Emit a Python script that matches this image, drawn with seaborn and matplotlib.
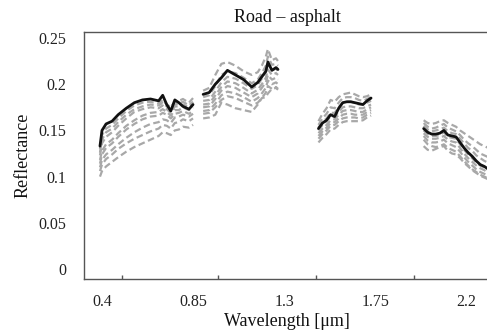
import numpy as np
import pandas as pd
import matplotlib
matplotlib.use("Agg")
import matplotlib.pyplot as plt
import seaborn as sns

# Wavelength sampling of the four atmospheric windows [µm]
W1 = [0.39, 0.40, 0.42, 0.45, 0.48, 0.52, 0.56, 0.60, 0.64, 0.68, 0.70, 0.72, 0.74, 0.76, 0.78, 0.80, 0.83, 0.85]
W2 = [0.90, 0.93, 0.96, 0.99, 1.02, 1.06, 1.10, 1.14, 1.17, 1.19, 1.21, 1.22, 1.24, 1.26, 1.27]
W3 = [1.47, 1.49, 1.51, 1.53, 1.55, 1.57, 1.59, 1.61, 1.63, 1.65, 1.67, 1.69, 1.71, 1.73]
W4 = [1.99, 2.01, 2.03, 2.05, 2.07, 2.09, 2.11, 2.13, 2.15, 2.17, 2.19, 2.21, 2.23, 2.25, 2.27, 2.29, 2.31, 2.33]

# Reference spectrum (solid black)
ref_1 = [0.133, 0.150, 0.157, 0.160, 0.167, 0.174, 0.180, 0.183, 0.184, 0.182, 0.188, 0.178, 0.171, 0.183, 0.180, 0.176, 0.173, 0.178]
ref_2 = [0.189, 0.191, 0.200, 0.207, 0.215, 0.210, 0.205, 0.197, 0.202, 0.208, 0.214, 0.224, 0.215, 0.218, 0.216]
ref_3 = [0.152, 0.158, 0.161, 0.167, 0.165, 0.174, 0.180, 0.181, 0.181, 0.180, 0.179, 0.178, 0.182, 0.185]
ref_4 = [0.152, 0.148, 0.146, 0.146, 0.147, 0.150, 0.145, 0.144, 0.143, 0.137, 0.131, 0.126, 0.122, 0.117, 0.113, 0.111, 0.108, 0.106]

# Sample spectra (dashed grey), one list per window
samples_1 = [
    [0.130, 0.145, 0.152, 0.156, 0.163, 0.171, 0.177, 0.180, 0.181, 0.179, 0.183, 0.178, 0.175, 0.181, 0.182, 0.184, 0.180, 0.185],
    [0.126, 0.140, 0.148, 0.152, 0.159, 0.167, 0.173, 0.176, 0.178, 0.177, 0.180, 0.176, 0.172, 0.178, 0.179, 0.181, 0.177, 0.181],
    [0.123, 0.136, 0.143, 0.148, 0.155, 0.163, 0.170, 0.173, 0.175, 0.174, 0.177, 0.173, 0.169, 0.176, 0.176, 0.178, 0.175, 0.178],
    [0.118, 0.128, 0.135, 0.140, 0.147, 0.155, 0.161, 0.166, 0.169, 0.170, 0.173, 0.170, 0.166, 0.172, 0.172, 0.175, 0.172, 0.175],
    [0.114, 0.124, 0.131, 0.136, 0.143, 0.151, 0.157, 0.162, 0.165, 0.166, 0.169, 0.167, 0.163, 0.168, 0.169, 0.171, 0.168, 0.171],
    [0.110, 0.118, 0.124, 0.129, 0.135, 0.142, 0.148, 0.153, 0.157, 0.159, 0.162, 0.161, 0.158, 0.164, 0.165, 0.167, 0.165, 0.168],
    [0.106, 0.113, 0.119, 0.124, 0.130, 0.136, 0.141, 0.145, 0.149, 0.152, 0.156, 0.155, 0.152, 0.158, 0.159, 0.162, 0.160, 0.163],
    [0.100, 0.106, 0.111, 0.116, 0.121, 0.127, 0.132, 0.136, 0.140, 0.144, 0.148, 0.147, 0.145, 0.150, 0.151, 0.154, 0.153, 0.156],
]
samples_2 = [
    [0.193, 0.196, 0.210, 0.222, 0.224, 0.220, 0.214, 0.210, 0.213, 0.220, 0.230, 0.238, 0.226, 0.228, 0.225],
    [0.186, 0.188, 0.198, 0.210, 0.214, 0.212, 0.207, 0.201, 0.205, 0.212, 0.220, 0.230, 0.221, 0.222, 0.220],
    [0.182, 0.183, 0.192, 0.202, 0.208, 0.206, 0.201, 0.195, 0.199, 0.206, 0.213, 0.222, 0.215, 0.217, 0.214],
    [0.178, 0.179, 0.188, 0.197, 0.203, 0.201, 0.196, 0.190, 0.194, 0.200, 0.207, 0.216, 0.210, 0.212, 0.210],
    [0.175, 0.176, 0.184, 0.193, 0.198, 0.196, 0.191, 0.186, 0.190, 0.196, 0.202, 0.210, 0.205, 0.207, 0.205],
    [0.171, 0.172, 0.179, 0.188, 0.192, 0.190, 0.186, 0.181, 0.185, 0.190, 0.196, 0.204, 0.200, 0.202, 0.200],
    [0.168, 0.169, 0.175, 0.183, 0.187, 0.185, 0.181, 0.177, 0.180, 0.185, 0.191, 0.198, 0.195, 0.197, 0.195],
    [0.163, 0.164, 0.167, 0.180, 0.178, 0.174, 0.172, 0.170, 0.178, 0.185, 0.186, 0.190, 0.195, 0.196, 0.194],
]
samples_3 = [
    [0.160, 0.168, 0.174, 0.183, 0.181, 0.186, 0.189, 0.190, 0.191, 0.189, 0.187, 0.186, 0.187, 0.189],
    [0.156, 0.163, 0.168, 0.175, 0.174, 0.180, 0.185, 0.186, 0.186, 0.185, 0.183, 0.182, 0.184, 0.186],
    [0.153, 0.159, 0.163, 0.169, 0.169, 0.175, 0.180, 0.181, 0.181, 0.180, 0.178, 0.178, 0.180, 0.182],
    [0.150, 0.156, 0.160, 0.165, 0.165, 0.170, 0.175, 0.176, 0.176, 0.175, 0.174, 0.174, 0.176, 0.178],
    [0.147, 0.152, 0.156, 0.161, 0.162, 0.167, 0.171, 0.172, 0.172, 0.171, 0.170, 0.170, 0.173, 0.175],
    [0.144, 0.149, 0.153, 0.158, 0.159, 0.163, 0.167, 0.168, 0.168, 0.167, 0.167, 0.167, 0.170, 0.172],
    [0.141, 0.146, 0.150, 0.155, 0.156, 0.160, 0.163, 0.164, 0.164, 0.164, 0.163, 0.164, 0.167, 0.169],
    [0.137, 0.142, 0.146, 0.151, 0.152, 0.156, 0.159, 0.160, 0.160, 0.160, 0.160, 0.161, 0.164, 0.166],
]
samples_4 = [
    [0.161, 0.158, 0.157, 0.158, 0.160, 0.161, 0.158, 0.156, 0.154, 0.150, 0.147, 0.144, 0.141, 0.138, 0.135, 0.133, 0.131, 0.129],
    [0.158, 0.154, 0.152, 0.153, 0.155, 0.157, 0.153, 0.151, 0.149, 0.145, 0.140, 0.136, 0.133, 0.129, 0.125, 0.123, 0.121, 0.119],
    [0.155, 0.151, 0.149, 0.150, 0.151, 0.153, 0.149, 0.147, 0.146, 0.141, 0.136, 0.131, 0.128, 0.123, 0.120, 0.117, 0.115, 0.113],
    [0.150, 0.146, 0.144, 0.144, 0.145, 0.148, 0.143, 0.142, 0.141, 0.135, 0.129, 0.124, 0.120, 0.115, 0.112, 0.110, 0.107, 0.105],
    [0.147, 0.143, 0.141, 0.141, 0.142, 0.144, 0.140, 0.138, 0.137, 0.131, 0.125, 0.120, 0.116, 0.112, 0.109, 0.107, 0.104, 0.102],
    [0.144, 0.139, 0.137, 0.137, 0.138, 0.140, 0.136, 0.134, 0.132, 0.127, 0.121, 0.116, 0.112, 0.108, 0.105, 0.103, 0.101, 0.099],
    [0.140, 0.135, 0.133, 0.132, 0.133, 0.135, 0.131, 0.129, 0.127, 0.122, 0.117, 0.112, 0.108, 0.105, 0.102, 0.100, 0.098, 0.096],
    [0.133, 0.129, 0.128, 0.130, 0.132, 0.133, 0.128, 0.125, 0.124, 0.120, 0.115, 0.111, 0.107, 0.104, 0.101, 0.099, 0.097, 0.095],
]

x_ticks = [0.4, 0.85, 1.3, 1.75, 2.2]
x_tick_labels = ["0.4", "0.85", "1.3", "1.75", "2.2"]
x_minor = [0.50, 0.975, 1.46, 1.94]
y_ticks = [0, 0.05, 0.1, 0.15, 0.2, 0.25]
y_tick_labels = ["0", "0.05", "0.1", "0.15", "0.2", "0.25"]

windows = [W1, W2, W3, W4]
refs = [ref_1, ref_2, ref_3, ref_4]
samples = [samples_1, samples_2, samples_3, samples_4]

rows_ref, rows_smp = [], []
for k, (w, r, smp) in enumerate(zip(windows, refs, samples)):
    for wl, v in zip(w, r):
        rows_ref.append({"wavelength": wl, "reflectance": v, "trace": f"ref-{k}"})
    for j, s in enumerate(smp):
        for wl, v in zip(w, s):
            rows_smp.append({"wavelength": wl, "reflectance": v, "trace": f"s{j}-{k}"})
df_ref = pd.DataFrame(rows_ref)
df_smp = pd.DataFrame(rows_smp)

sns.set_style("white")
plt.rcParams["font.family"] = ["Liberation Serif", "DejaVu Serif"]

fig = plt.figure(figsize=(4.87, 3.35), dpi=100)
ax = fig.add_axes([84 / 487, 1 - 279 / 335, 406 / 487, 247 / 335])

sns.lineplot(data=df_smp, x="wavelength", y="reflectance", units="trace",
             estimator=None, color="#a8a8a8", linewidth=1.6, linestyle=(0, (3, 1.6)),
             ax=ax, legend=False)
sns.lineplot(data=df_ref, x="wavelength", y="reflectance", units="trace",
             estimator=None, color="#111111", linewidth=2.0, ax=ax, legend=False)

ax.set_xlim(0.311, 2.318)
ax.set_ylim(-0.0108, 0.2565)
ax.set_xticks(x_ticks)
ax.set_xticklabels(x_tick_labels)
ax.set_xticks(x_minor, minor=True)
ax.set_yticks(y_ticks)
ax.set_yticklabels(y_tick_labels)

for side in ["left", "bottom", "top"]:
    ax.spines[side].set_color("#555555")
    ax.spines[side].set_linewidth(1.0)
ax.spines["right"].set_visible(False)

ax.tick_params(axis="both", which="major", direction="out", length=4, width=1,
               color="#555555", labelsize=11.5, labelcolor="#222222")
ax.tick_params(axis="x", which="major", pad=7)
ax.tick_params(axis="y", which="major", pad=9)
ax.tick_params(axis="x", which="minor", direction="in", length=3, width=1,
               color="#555555", bottom=True)

ax.set_title("Road – asphalt", fontsize=13, color="#111111", pad=7)
ax.set_xlabel("Wavelength [μm]", fontsize=13, color="#111111", labelpad=2)
ax.set_ylabel("Reflectance", fontsize=13, color="#111111")
ax.yaxis.set_label_coords(-0.13, 0.5)

fig.savefig("out.png", dpi=100)
